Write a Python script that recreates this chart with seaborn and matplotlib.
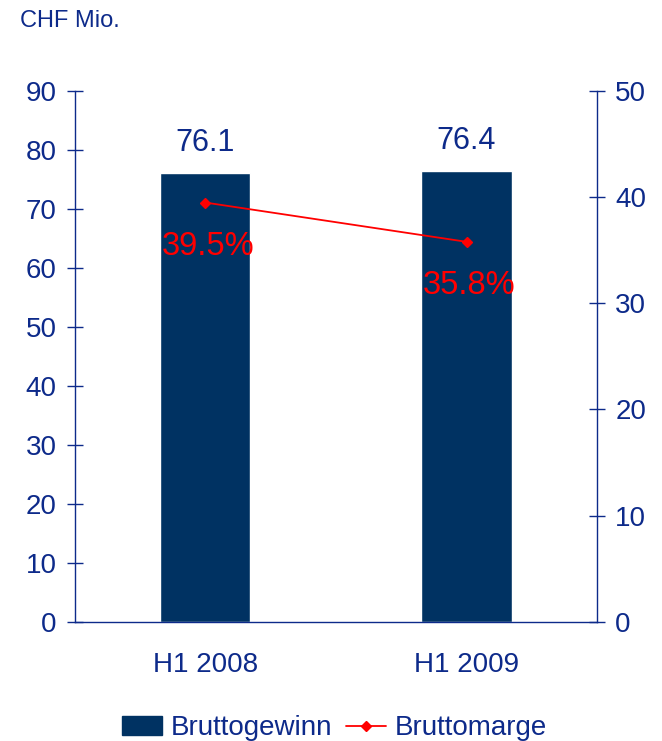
import numpy as np
import matplotlib
matplotlib.use("Agg")
import matplotlib.pyplot as plt
import seaborn as sns
from matplotlib.patches import Patch
from matplotlib.lines import Line2D

# data
periods = ["H1 2008", "H1 2009"]
gross_profit = [76.1, 76.4]      # CHF Mio.
gross_margin = [39.5, 35.8]      # %

navy = "#0d2a8a"
bar_col = "#003262"
red = "#ff0000"

sns.set_style("white")
plt.rcParams["font.family"] = ["Liberation Sans", "DejaVu Sans"]

fig, ax = plt.subplots(figsize=(6.62, 7.41), dpi=100)
fig.subplots_adjust(left=0.113, right=0.902, top=0.877, bottom=0.161)

# bars
sns.barplot(x=periods, y=gross_profit, color=bar_col, width=0.345,
            saturation=1, ax=ax)
ax.set_ylim(0, 90)
ax.set_yticks(np.arange(0, 91, 10))
ax.set_xlim(-0.5, 1.5)

for i, v in enumerate(gross_profit):
    ax.text(i, v + 2.6, f"{v:.1f}", ha="center", va="bottom",
            fontsize=22, color=navy)

# margin line on right axis
ax2 = ax.twinx()
sns.pointplot(x=periods, y=gross_margin, color=red, markers="D",
              markersize=5, linewidth=1.3, ax=ax2)
ax2.set_ylim(0, 50)
ax2.set_yticks(np.arange(0, 51, 10))
ax2.set_xlim(-0.5, 1.5)
for i, m in enumerate(gross_margin):
    ax2.text(i + 0.01, m - 2.7, f"{m:.1f}%", ha="center", va="top",
             fontsize=23.5, color=red)

# axes styling
for a in (ax, ax2):
    a.set_xlabel("")
    a.set_ylabel("")
    a.spines["top"].set_visible(False)
    for s in ("left", "right", "bottom"):
        a.spines[s].set_color(navy)
        a.spines[s].set_linewidth(1.0)
    a.tick_params(axis="y", direction="inout", length=12, width=1,
                  color=navy, labelcolor=navy, labelsize=20, pad=7)

ax.spines["right"].set_visible(False)
ax2.spines["left"].set_visible(False)
ax2.spines["bottom"].set_visible(False)

# category boundaries as ticks, labels centered under bars
ax.set_xticks([-0.5, 0.5, 1.5])
ax.set_xticklabels([])
ax.set_xticks([0, 1], minor=True)
ax.set_xticklabels(periods, minor=True)
ax.tick_params(axis="x", which="major", direction="inout", length=14,
               width=1, color=navy)
ax.tick_params(axis="x", which="minor", length=0, labelcolor=navy,
               labelsize=20, pad=22)
ax2.tick_params(axis="x", which="both", length=0, labelbottom=False)

fig.text(0.03, 0.972, "CHF Mio.", fontsize=17, color=navy,
         ha="left", va="center")

# legend
handles = [Patch(color=bar_col, label="Bruttogewinn"),
           Line2D([0], [0], color=red, marker="D", markersize=5,
                  linewidth=1.3, label="Bruttomarge")]
leg = fig.legend(handles=handles, loc="center", bbox_to_anchor=(0.505, 0.017),
                 ncol=2, frameon=False, fontsize=20, handlelength=1.45,
                 columnspacing=0.5, handletextpad=0.3)
for t in leg.get_texts():
    t.set_color(navy)

fig.savefig("out.png", dpi=100)
